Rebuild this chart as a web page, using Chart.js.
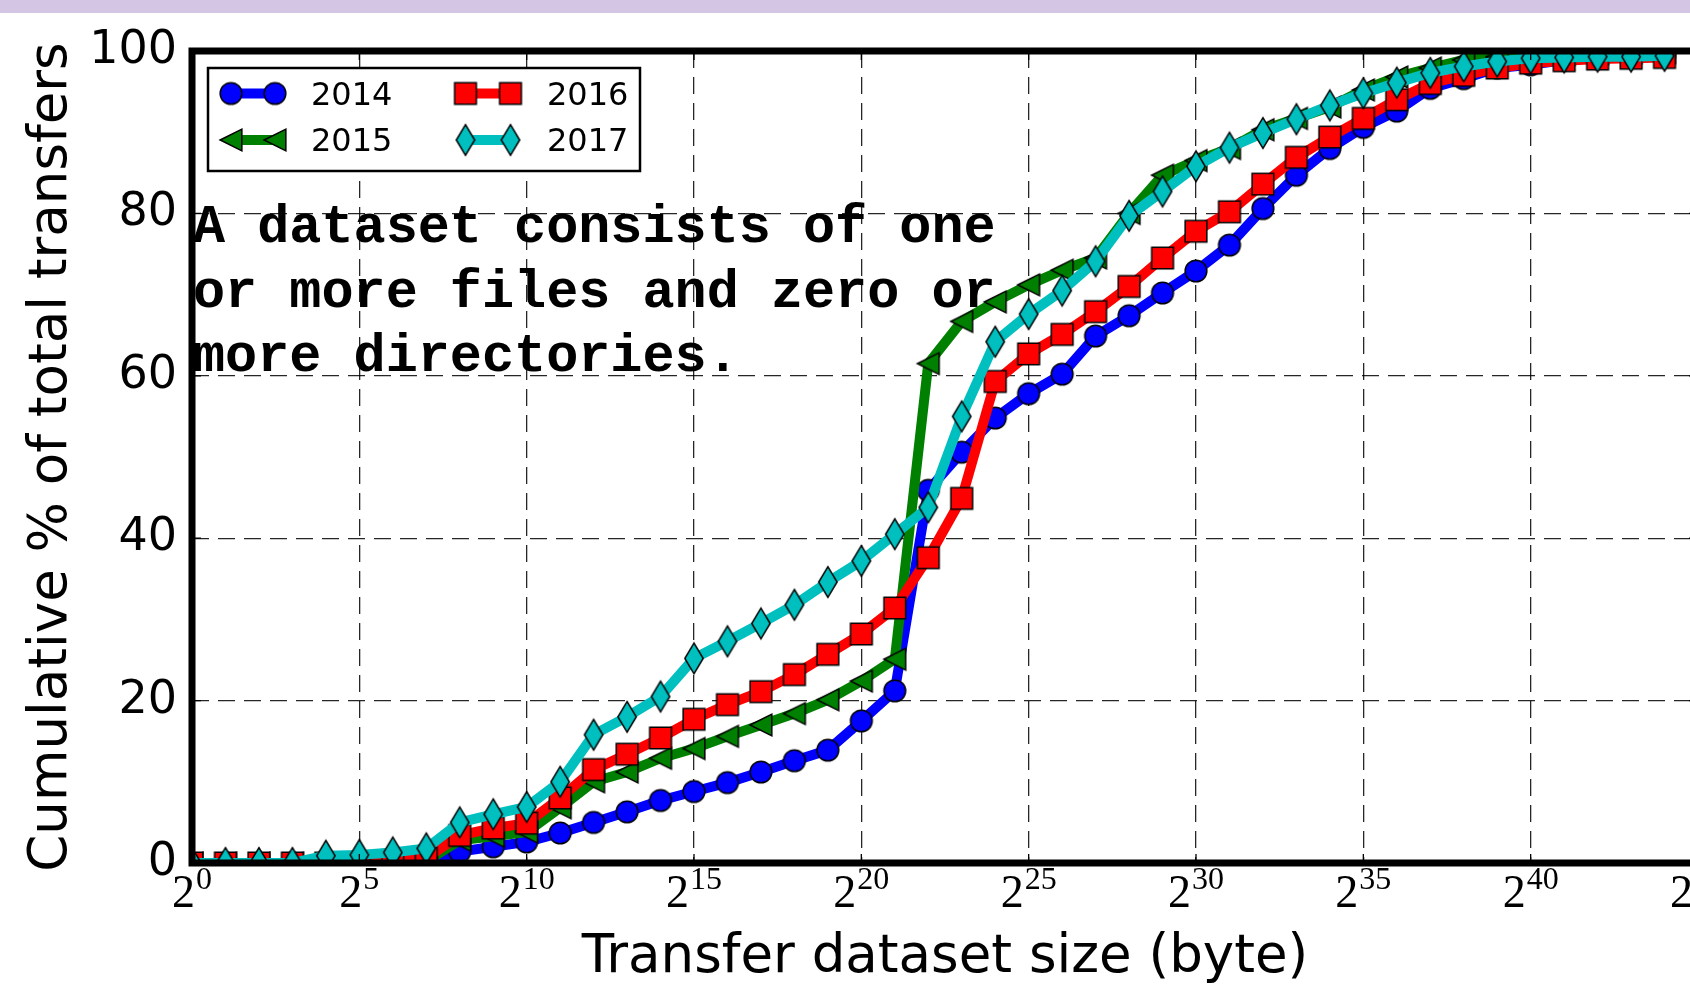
<!DOCTYPE html>
<html>
<head>
<meta charset="utf-8">
<script src="https://cdn.jsdelivr.net/npm/chart.js@4.4.0/dist/chart.umd.min.js"></script>
<style>
  html, body { margin: 0; padding: 0; background: #fff; overflow: hidden; width: 1690px; height: 998px; }
  #band { position: absolute; left: 0; top: 0; width: 1690px; height: 13px; background: #d4c5e4; z-index: 2; }
  #wrap { position: absolute; left: 0; top: 0; width: 1760px; height: 998px; }
</style>
</head>
<body>
<div id="band"></div>
<div id="wrap"><canvas id="c" width="1760" height="998"></canvas></div>
<script>
// Transfer dataset size, as a power of two (bytes = 2^exponent)
const sizeExponents = [0, 1, 2, 3, 4, 5, 6, 7, 8, 9, 10, 11, 12, 13, 14, 15, 16, 17, 18, 19, 20, 21, 22,
  23, 24, 25, 26, 27, 28, 29, 30, 31, 32, 33, 34, 35, 36, 37, 38, 39, 40, 41, 42, 43, 44];

// Cumulative % of total transfers, one series per year
const cdf2014 = [0, 0, 0, 0, 0, 0, 0, 0, 1.4, 2.0, 2.6, 3.7, 5.0, 6.3, 7.7, 8.8, 9.9, 11.2, 12.6, 13.9,
  17.5, 21.2, 45.9, 50.6, 54.8, 57.8, 60.2, 64.9, 67.4, 70.2, 72.9, 76.1, 80.6, 84.7, 88.0, 90.6, 92.6,
  95.4, 96.6, 97.9, 98.3, 98.9, 99.1, 99.3, 99.4];
const cdf2015 = [0, 0, 0, 0, 0, 0, 0, 0.2, 2.8, 3.3, 3.8, 6.8, 10.0, 11.2, 12.9, 14.1, 15.6, 17.0, 18.4,
  20.1, 22.4, 25.1, 61.5, 66.7, 69.1, 71.2, 73.0, 74.5, 80.0, 84.7, 86.5, 88.0, 90.3, 91.7, 93.1, 95.2,
  96.8, 97.9, 98.9, 99.3, 99.5, 99.6, 99.7, 99.8, 99.8];
const cdf2016 = [0, 0, 0, 0, 0, 0, 0.3, 0.6, 3.4, 4.3, 4.9, 8.0, 11.5, 13.4, 15.4, 17.7, 19.5, 21.1, 23.2,
  25.7, 28.2, 31.4, 37.6, 44.9, 59.3, 62.7, 65.1, 67.9, 71.0, 74.5, 77.8, 80.2, 83.6, 86.9, 89.4, 91.7,
  94.0, 96.0, 97.0, 97.9, 98.5, 98.8, 99.0, 99.1, 99.2];
const cdf2017 = [0, 0, 0, 0, 0.9, 1.0, 1.3, 1.8, 5.0, 6.0, 6.9, 10.0, 15.8, 18.0, 20.5, 25.2, 27.3, 29.5,
  31.8, 34.6, 37.2, 40.5, 43.8, 55.0, 64.2, 67.6, 70.5, 74.1, 79.7, 82.7, 85.8, 88.1, 89.9, 91.6, 93.3,
  94.8, 96.1, 97.3, 98.1, 98.7, 99.1, 99.2, 99.3, 99.3, 99.4];

const yearLabels = ['2014', '2015', '2016', '2017'];
const xTickExponents = [0, 5, 10, 15, 20, 25, 30, 35, 40, 45];
const yTickValues = [0, 20, 40, 60, 80, 100];

const noteLines = ['A dataset consists of one', 'or more files and zero or', 'more directories.'];

// Marker glyphs, drawn once into small canvases and used as point styles
function makeMarker(kind, fill) {
  const c = document.createElement('canvas');
  const half = 10.85;
  if (kind === 'thinDiamond') { c.width = 24; c.height = 36; } else { c.width = 26; c.height = 26; }
  const g = c.getContext('2d');
  const cx = c.width / 2, cy = c.height / 2;
  g.beginPath();
  if (kind === 'circle') {
    g.arc(cx, cy, half, 0, Math.PI * 2);
  } else if (kind === 'square') {
    g.rect(cx - half, cy - half, half * 2, half * 2);
  } else if (kind === 'triangleLeft') {
    g.moveTo(cx - half, cy);
    g.lineTo(cx + half, cy - half);
    g.lineTo(cx + half, cy + half);
    g.closePath();
  } else {
    g.moveTo(cx, cy - 15.3);
    g.lineTo(cx + 9.2, cy);
    g.lineTo(cx, cy + 15.3);
    g.lineTo(cx - 9.2, cy);
    g.closePath();
  }
  g.fillStyle = fill;
  g.fill();
  g.lineWidth = 1.5;
  g.strokeStyle = '#000';
  g.lineJoin = 'miter';
  g.stroke();
  return c;
}

const seriesStyle = [
  { color: '#0000ff', marker: makeMarker('circle', '#0000ff') },
  { color: '#008000', marker: makeMarker('triangleLeft', '#008000') },
  { color: '#ff0000', marker: makeMarker('square', '#ff0000') },
  { color: '#00bfbf', marker: makeMarker('thinDiamond', '#00bfbf') }
];
const seriesValues = [cdf2014, cdf2015, cdf2016, cdf2017];
const LINE_WIDTH = 10;

const datasets = seriesValues.map((vals, i) => ({
  label: yearLabels[i],
  data: sizeExponents.map((e, k) => ({ x: e, y: vals[k] })),
  borderColor: seriesStyle[i].color,
  backgroundColor: seriesStyle[i].color,
  borderWidth: LINE_WIDTH,
  borderJoinStyle: 'round',
  pointStyle: seriesStyle[i].marker,
  pointRadius: 11,
  pointHoverRadius: 11,
  tension: 0,
  fill: false,
  clip: 0,
  order: 3 - i
}));

const FONT_SANS = "'DejaVu Sans', 'Noto Sans', sans-serif";

// Frame, inward ticks, power-of-two tick labels, legend and note
const decorations = {
  id: 'decorations',
  afterDatasetsDraw(chart) {
    const { ctx, chartArea: a, scales } = chart;
    const xs = scales.x, ys = scales.y;
    ctx.save();

    // note text
    ctx.fillStyle = '#000';
    ctx.font = "bold 53.5px 'Liberation Mono', 'DejaVu Sans Mono', monospace";
    ctx.textAlign = 'left';
    ctx.textBaseline = 'alphabetic';
    noteLines.forEach((line, i) => ctx.fillText(line, 193, 242 + i * 64.5));

    // inward tick marks
    ctx.strokeStyle = '#000';
    ctx.lineWidth = 1.3;
    ctx.beginPath();
    xTickExponents.forEach(v => {
      const x = xs.getPixelForValue(v);
      ctx.moveTo(x, a.bottom); ctx.lineTo(x, a.bottom - 9);
      ctx.moveTo(x, a.top); ctx.lineTo(x, a.top + 9);
    });
    yTickValues.forEach(v => {
      const y = ys.getPixelForValue(v);
      ctx.moveTo(a.left, y); ctx.lineTo(a.left + 9, y);
      ctx.moveTo(a.right, y); ctx.lineTo(a.right - 9, y);
    });
    ctx.stroke();

    // frame
    ctx.lineWidth = 7;
    ctx.lineJoin = 'miter';
    ctx.strokeRect(a.left, a.top, a.right - a.left, a.bottom - a.top);

    // x tick labels: 2^n
    ctx.textBaseline = 'alphabetic';
    ctx.textAlign = 'left';
    const baseFont = "46px 'Liberation Serif', 'DejaVu Serif', serif";
    const expFont = "32px 'Liberation Serif', 'DejaVu Serif', serif";
    xTickExponents.forEach(v => {
      const x = xs.getPixelForValue(v);
      const expText = String(v);
      ctx.font = baseFont;
      const wb = ctx.measureText('2').width;
      ctx.font = expFont;
      const we = ctx.measureText(expText).width;
      const gap = 1;
      const x0 = x - (wb + gap + we) / 2;
      ctx.font = baseFont;
      ctx.fillText('2', x0, 907);
      ctx.font = expFont;
      ctx.fillText(expText, x0 + wb + gap, 889);
    });

    // legend
    const box = { left: 208, top: 68, right: 640, bottom: 171 };
    ctx.fillStyle = '#fff';
    ctx.fillRect(box.left, box.top, box.right - box.left, box.bottom - box.top);
    ctx.lineWidth = 2.5;
    ctx.strokeStyle = '#000';
    ctx.strokeRect(box.left, box.top, box.right - box.left, box.bottom - box.top);
    const cols = [{ x1: 231, x2: 275, tx: 311 }, { x1: 465.5, x2: 510.5, tx: 547 }];
    const rows = [93.5, 140];
    ctx.font = '32px ' + FONT_SANS;
    ctx.textBaseline = 'middle';
    yearLabels.forEach((lab, i) => {
      const col = cols[Math.floor(i / 2)];
      const y = rows[i % 2];
      const st = seriesStyle[i];
      ctx.strokeStyle = st.color;
      ctx.lineWidth = LINE_WIDTH;
      ctx.beginPath();
      ctx.moveTo(col.x1, y); ctx.lineTo(col.x2, y);
      ctx.stroke();
      [col.x1, col.x2].forEach(mx => {
        ctx.drawImage(st.marker, mx - st.marker.width / 2, y - st.marker.height / 2);
      });
      ctx.fillStyle = '#000';
      ctx.fillText(lab, col.tx, y + 3);
    });

    ctx.restore();
  }
};

new Chart(document.getElementById('c'), {
  type: 'line',
  data: { datasets },
  options: {
    responsive: false,
    animation: false,
    events: [],
    layout: { padding: { left: 0, top: 51, right: 62, bottom: 0 } },
    plugins: { legend: { display: false }, tooltip: { enabled: false } },
    scales: {
      x: {
        type: 'linear',
        min: 0,
        max: 45,
        afterBuildTicks(scale) { scale.ticks = xTickExponents.map(v => ({ value: v })); },
        afterFit(scale) { scale.height = 135; },
        ticks: { display: false },
        grid: { color: 'rgba(0,0,0,0.85)', lineWidth: 1.3, drawTicks: false },
        border: { display: false, dash: [17, 9] },
        title: {
          display: true,
          text: 'Transfer dataset size (byte)',
          color: '#000',
          font: { family: FONT_SANS, size: 53 },
          padding: { top: 0, bottom: 8 }
        }
      },
      y: {
        min: 0,
        max: 100,
        afterBuildTicks(scale) { scale.ticks = yTickValues.map(v => ({ value: v })); },
        afterFit(scale) { scale.width = 192; },
        ticks: { color: '#000', font: { family: FONT_SANS, size: 46 }, padding: 15 },
        grid: { color: 'rgba(0,0,0,0.85)', lineWidth: 1.3, drawTicks: false },
        border: { display: false, dash: [17, 9] },
        title: {
          display: true,
          text: 'Cumulative % of total transfers',
          color: '#000',
          font: { family: FONT_SANS, size: 53 },
          padding: { top: 20, bottom: 0 }
        }
      }
    }
  },
  plugins: [decorations]
});
</script>
</body>
</html>
